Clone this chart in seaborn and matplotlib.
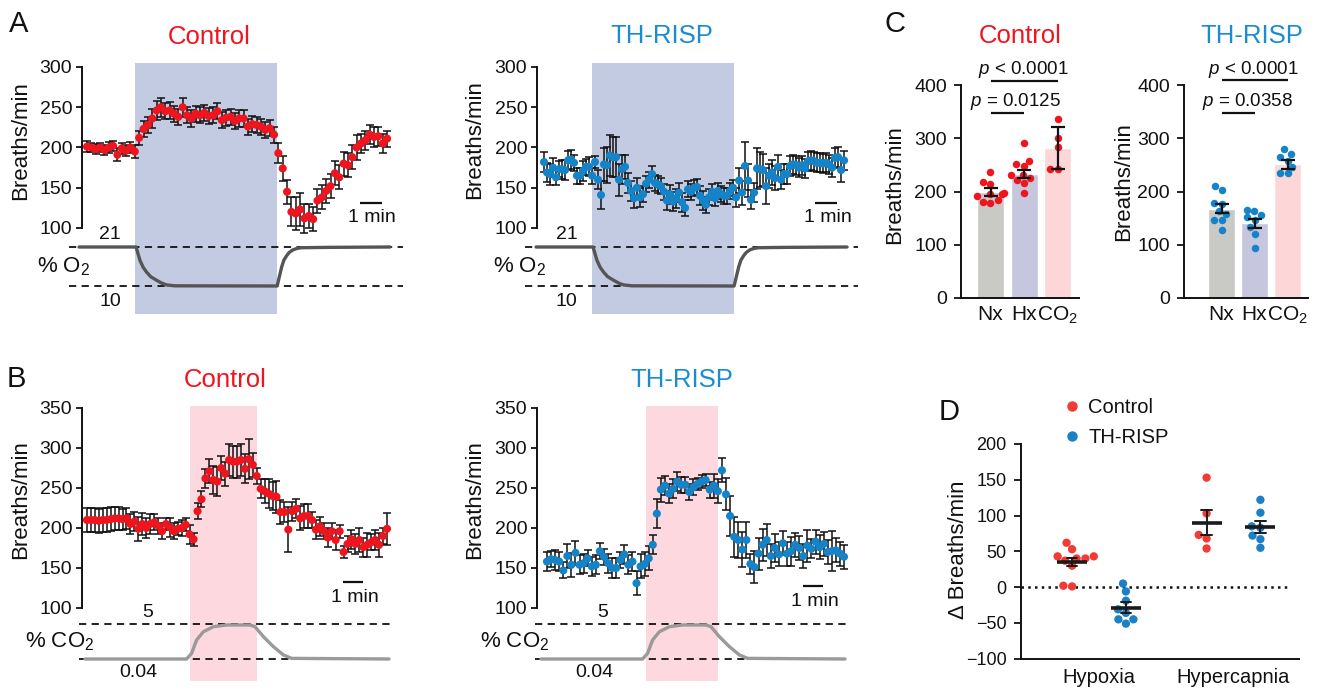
import numpy as np
import pandas as pd
import matplotlib
matplotlib.use("Agg")
import matplotlib.pyplot as plt
from matplotlib.lines import Line2D
import seaborn as sns

# ---------------- Panel A: breathing rate, hypoxia (mean, SEM; breaths/min) ----------------
A_CTRL_RATE = [201, 200, 198, 200, 197, 200, 202, 191, 199, 196, 200, 195,
               212, 223, 228, 236, 246, 250, 245, 246, 242, 238, 250, 240, 236, 242, 240, 243,
               239, 240, 245, 234, 237, 238, 233, 236, 236, 226, 229, 228, 226, 222, 224, 216,
               193, 174, 145, 120, 118, 123, 112, 115, 111, 134, 138, 146, 152, 168, 163, 180,
               178, 188, 200, 205, 209, 216, 213, 214, 205, 211]
A_CTRL_SEM = [7, 6, 6, 5, 6, 7, 6, 8, 7, 7, 7, 8,
              9, 10, 10, 12, 12, 12, 10, 10, 10, 10, 12, 10, 10, 10, 10, 10,
              10, 10, 10, 10, 10, 10, 10, 10, 10, 10, 10, 10, 10, 10, 10, 10,
              12, 15, 15, 18, 20, 20, 18, 15, 15, 15, 15, 15, 15, 15, 15, 15,
              15, 15, 15, 12, 12, 12, 12, 12, 12, 10]
A_RISP_RATE = [182, 169, 167, 175, 163, 173, 173, 172, 184, 185, 181, 165, 165, 171, 176, 176,
               165, 182, 160, 141, 179, 178, 190, 188, 188, 160, 173, 176, 156, 146, 137, 150,
               138, 142, 155, 160, 167, 156, 154, 152, 145, 134, 142, 133, 137, 144, 132, 125,
               148, 145, 150, 151, 140, 134, 129, 138, 145, 137, 146, 142, 140, 140, 146, 150,
               138, 159, 144, 177, 159, 135, 144, 174, 173, 172, 152, 165, 169, 162, 176, 160,
               167, 167, 177, 179, 178, 175, 178, 174, 183, 184, 183, 181, 181, 180, 181, 179,
               175, 187, 188, 172, 184]
A_RISP_SEM = [12, 12, 13, 12, 10, 10, 12, 12, 12, 12, 10, 10, 10, 12, 10, 12, 10, 8, 12,
              18, 20, 22, 25, 25, 25, 20, 18, 15,
              12, 12, 12, 12, 12, 10, 10, 10, 10, 10, 10, 10, 10, 12, 12, 12, 12, 12,
              12, 10, 10, 10, 10, 10, 12, 12, 10, 10, 10, 10, 10, 10, 10, 10, 10, 10,
              12, 15, 15, 30, 20, 12, 12, 25, 22, 20, 22, 15, 15, 15, 15, 12, 12, 12, 12,
              12, 12, 12, 12, 12, 12, 12, 12, 12, 12, 12, 12, 12, 12, 12, 12, 15, 12]
A_SPAN_MIN = (0.0, 13.64)          # first / last time bin (min)
HYPOXIA_WINDOW = (2.2, 8.65)       # min
O2_TIME = [-0.36, 2.23, 2.30, 2.41, 2.55, 2.71, 2.90, 3.17, 3.40, 3.62, 4.00, 8.64,
           8.70, 8.85, 8.95, 9.08, 9.20, 9.36, 9.55, 9.76, 11.0, 13.77]
O2_PCT = [21, 21, 19.5, 17.2, 15.3, 13.9, 12.6, 11.6, 10.8, 10.3, 10.05, 10.0,
          11.5, 15.4, 17.3, 18.6, 19.5, 20.2, 20.6, 20.8, 20.9, 21.0]

# ---------------- Panel B: breathing rate, hypercapnia ----------------
B_CTRL_RATE = [210, 210, 210, 209, 210, 210, 211, 212, 212, 211, 212, 205, 208, 199, 205, 200,
               205, 207, 203, 196, 205, 201, 196, 199, 200, 204, 192, 186, 221, 236, 262, 271,
               260, 258, 275, 268, 285, 283, 283, 285, 274, 286, 279, 265, 249, 246, 243, 240,
               239, 220, 220, 198, 221, 224, 212, 215, 215, 210, 198, 202, 196, 188, 196, 185,
               196, 170, 180, 186, 180, 185, 176, 179, 182, 185, 179, 190, 199]
B_CTRL_SEM = [15, 15, 15, 15, 15, 15, 15, 14, 14, 13, 13,
              13, 12, 15, 14, 12, 12, 10, 10, 10, 8, 12, 10, 8, 10, 8, 12, 8,
              10, 10, 12, 15, 18, 18, 15, 15, 20, 20, 20, 20, 18, 25, 15, 10,
              12, 15, 18, 18, 20, 15, 12, 28, 12, 12, 15, 15, 15, 10, 12, 12, 10,
              12, 10, 12, 8, 8, 10, 12, 12, 15, 12, 15, 10, 12, 15, 10, 20]
B_RISP_RATE = [158, 161, 160, 158, 147, 165, 154, 169, 154, 156, 162, 152, 154, 171, 164, 156,
               150, 150, 160, 167, 154, 158, 131, 152, 155, 162, 179, 218, 248, 253, 243, 249,
               258, 254, 254, 245, 251, 255, 258, 260, 248, 253, 246, 272, 242, 215, 189, 185,
               173, 185, 155, 151, 168, 179, 185, 165, 175, 167, 181, 168, 171, 179, 175, 165,
               178, 174, 183, 176, 180, 170, 171, 172, 168, 164]
B_RISP_SEM = [12, 10, 12, 12, 10, 15, 15, 15, 12, 12, 10, 12, 12, 10, 10, 12, 12, 12, 10, 12,
              12, 12, 15, 15, 15, 15, 12,
              18, 15, 12, 12, 12, 12, 10, 10, 10, 10, 8, 8, 8, 10, 15, 15,
              15, 20, 25, 25, 22, 22, 22, 12, 20, 20, 20, 20, 15, 18, 15, 15, 15, 18, 15, 15,
              15, 20, 12, 15, 15, 15, 15, 25, 15, 15, 15]
B_CTRL_SPAN = (0.0, 15.0)
B_RISP_SPAN = (0.2, 15.05)
HYPERCAP_WINDOW_CTRL = (5.15, 8.5)
HYPERCAP_WINDOW_RISP = (5.15, 8.75)
CO2_TIME = [-0.1, 4.98, 5.23, 5.48, 5.82, 6.32, 6.98, 8.15, 8.40, 8.82, 9.32, 9.82, 10.23, 15.1]
CO2_PCT = [0.04, 0.04, 0.84, 2.73, 3.91, 4.62, 4.86, 4.86, 4.62, 3.20, 1.79, 0.61, 0.13, 0.04]

# ---------------- Panel C: rate under normoxia / hypoxia / hypercapnia ----------------
C_CONDITIONS = ["Nx", "Hx", "CO$_2$"]
C_CTRL_MEAN = [199, 233, 282]
C_CTRL_SEM = [7, 8, 39]
C_CTRL_NX = [237, 214, 217, 198, 195, 196, 181, 179, 184, 191]
C_CTRL_HX = [291, 258, 251, 247, 231, 231, 222, 216, 225, 198]
C_CTRL_CO2 = [336, 300, 284, 242, 242]
C_RISP_MEAN = [168, 140, 251]
C_RISP_SEM = [9, 8, 8.5]
C_RISP_NX = [211, 202, 178, 177, 163, 158, 147, 147, 127]
C_RISP_HX = [166, 163, 155, 146, 152, 121, 133, 93]
C_RISP_CO2 = [280, 271, 264, 258, 246, 234, 234]
C_CTRL_P = ["$\\mathit{p}$ < 0.0001", "$\\mathit{p}$ = 0.0125"]
C_RISP_P = ["$\\mathit{p}$ < 0.0001", "$\\mathit{p}$ = 0.0358"]

# ---------------- Panel D: change in rate ----------------
D_CHALLENGES = ["Hypoxia", "Hypercapnia"]
D_GROUPS = ["Control", "TH-RISP"]
D_HYPOXIA_CTRL = [62, 53, 43, 43, 40, 40, 37, 30, 1, 2]
D_HYPOXIA_RISP = [5, -6, -19, -36, -31, -45, -45, -51]
D_HYPERCAP_CTRL = [153, 103, 73, 68, 54]
D_HYPERCAP_RISP = [122, 104, 85, 83, 72, 67, 55]

# ---------------- styling ----------------
RED = "#f0141e"
BLUE = "#1483c8"
BLUE_TITLE = "#1a8dd2"
D_RED = "#f23b34"
D_BLUE = "#1b80c5"
HYPOXIA_SHADE = "#c2cbe1"
HYPERCAP_SHADE = "#fdd9df"
BAR_COLORS = ["#c9c9c5", "#c6c6df", "#fdd7d7"]
INK = "#111111"

sns.set_theme(style="white")
plt.rcParams["font.family"] = ["Liberation Sans", "DejaVu Sans"]
plt.rcParams["mathtext.fontset"] = "custom"
plt.rcParams["mathtext.rm"] = "Liberation Sans"
plt.rcParams["mathtext.it"] = "Liberation Sans:italic"
plt.rcParams["mathtext.default"] = "regular"
plt.rcParams["text.color"] = INK

W, H = 1319, 690
fig = plt.figure(figsize=(W / 100, H / 100), dpi=100)
fig.patch.set_facecolor("white")


def add_ax(x0, y0, x1, y1):
    ax = fig.add_axes([x0 / W, 1 - y1 / H, (x1 - x0) / W, (y1 - y0) / H])
    ax.set_facecolor("none")
    return ax


def lin_lim(pa, va, pb, vb, p0, p1):
    f = lambda p: va + (p - pa) * (vb - va) / (pb - pa)
    return f(p0), f(p1)


def ftext(x, y, s, **kw):
    fig.text(x / W, 1 - y / H, s, **kw)


def to_data(ax, x, y):
    return ax.transData.inverted().transform((x, H - y))


def rate_panel(axis_px, right_px, top_px, bot_px, t0_px, ppm, yref, yticks,
               span, rate, sem, color, window, shade):
    ax = add_ax(axis_px, top_px, right_px, bot_px)
    t = np.linspace(span[0], span[1], len(rate))
    ax.axvspan(*window, color=shade, lw=0, zorder=0)
    ax.errorbar(t, rate, yerr=sem, fmt="none", ecolor=INK, elinewidth=1.1,
                capsize=2.6, capthick=1.1, zorder=2, clip_on=False)
    sns.scatterplot(x=t, y=rate, ax=ax, color=color, s=34, edgecolor="none",
                    zorder=3, clip_on=False, legend=False)
    ax.set_xlim((axis_px - t0_px) / ppm, (right_px - t0_px) / ppm)
    (pa, va), (pb, vb) = yref
    ax.set_ylim(*lin_lim(pa, va, pb, vb, bot_px, top_px))
    for s in ["top", "right", "bottom"]:
        ax.spines[s].set_visible(False)
    ax.spines["left"].set_bounds(yticks[0], yticks[-1])
    ax.spines["left"].set_linewidth(1.4)
    ax.spines["left"].set_color(INK)
    ax.set_xticks([])
    ax.set_yticks(yticks)
    ax.tick_params(axis="y", direction="out", length=4, width=1.3, pad=3,
                   labelsize=14, colors=INK, left=True)
    ax.set_xlabel("")
    ax.set_ylabel("")
    return ax


def gas_panel(left_px, right_px, top_px, bot_px, t0_px, ppm, hi_px, hi, lo_px, lo,
              t, v, color, window, shade):
    ax = add_ax(left_px, top_px, right_px, bot_px)
    ax.axvspan(*window, color=shade, lw=0, zorder=0)
    ax.axhline(hi, color=INK, lw=1.3, ls=(0, (4, 3)), zorder=1)
    ax.axhline(lo, color=INK, lw=1.3, ls=(0, (4, 3)), zorder=1)
    sns.lineplot(x=t, y=v, ax=ax, color=color, lw=2.4, estimator=None, sort=False,
                 zorder=2, solid_capstyle="round")
    ax.set_xlim((left_px - t0_px) / ppm, (right_px - t0_px) / ppm)
    ax.set_ylim(*lin_lim(hi_px, hi, lo_px, lo, bot_px, top_px))
    ax.axis("off")
    return ax


def scale_bar(ax, x_px, y_px, tx, tbase):
    x, y = to_data(ax, x_px, y_px)
    ax.plot([x, x + 1], [y, y], color=INK, lw=1.6, clip_on=False, solid_capstyle="butt")
    ftext(tx, tbase, "1 min", ha="center", va="baseline", fontsize=14)


# ---------------- Panel A ----------------
A_YREF = ((67, 300), (228, 100))
A_TICKS = [100, 150, 200, 250, 300]
O2_REF = dict(hi_px=247, hi=21, lo_px=286, lo=10)

ax = rate_panel(82, 405, 63, 240, 87, 22, A_YREF, A_TICKS, A_SPAN_MIN,
                A_CTRL_RATE, A_CTRL_SEM, RED, HYPOXIA_WINDOW, HYPOXIA_SHADE)
scale_bar(ax, 360, 202.7, 372, 221.7)
gas_panel(69, 403, 240, 314, 87, 22, **O2_REF, t=O2_TIME, v=O2_PCT, color="#555555",
          window=HYPOXIA_WINDOW, shade=HYPOXIA_SHADE)

ax = rate_panel(537, 858, 63, 240, 544, 22, A_YREF, A_TICKS, A_SPAN_MIN,
                A_RISP_RATE, A_RISP_SEM, BLUE, HYPOXIA_WINDOW, HYPOXIA_SHADE)
scale_bar(ax, 815, 203.3, 827.5, 221.7)
gas_panel(525, 858, 240, 314, 544, 22, **O2_REF, t=O2_TIME, v=O2_PCT, color="#555555",
          window=HYPOXIA_WINDOW, shade=HYPOXIA_SHADE)

for cx, cy_lab in [(21, 141), (474.5, 140)]:
    ftext(cx, cy_lab, "Breaths/min", rotation=90, ha="center", va="center", fontsize=16)
for x21, xpct in [(110, 64), (566.5, 520)]:
    ftext(x21, 239, "21", ha="center", va="baseline", fontsize=14)
    ftext(x21, 306, "10", ha="center", va="baseline", fontsize=14)
    ftext(xpct, 272, "% O$_2$", ha="center", va="baseline", fontsize=16)
ftext(209, 44, "Control", ha="center", va="baseline", fontsize=18.5, color=RED)
ftext(662, 43, "TH-RISP", ha="center", va="baseline", fontsize=18.5, color=BLUE_TITLE)

# ---------------- Panel B ----------------
B_YREF = ((408, 350), (608, 100))
B_TICKS = [100, 150, 200, 250, 300, 350]
CO2_REF = dict(hi_px=624, hi=5, lo_px=659, lo=0.04)

ax = rate_panel(82, 392, 406, 615, 87, 20, B_YREF, B_TICKS, B_CTRL_SPAN,
                B_CTRL_RATE, B_CTRL_SEM, RED, HYPERCAP_WINDOW_CTRL, HYPERCAP_SHADE)
scale_bar(ax, 343, 581.7, 354.5, 601.7)
gas_panel(79, 391, 615, 681, 87, 20, **CO2_REF, t=CO2_TIME, v=CO2_PCT, color="#9a9a9a",
          window=HYPERCAP_WINDOW_CTRL, shade=HYPERCAP_SHADE)

ax = rate_panel(537, 850, 406, 615, 543, 20, B_YREF, B_TICKS, B_RISP_SPAN,
                B_RISP_RATE, B_RISP_SEM, BLUE, HYPERCAP_WINDOW_RISP, HYPERCAP_SHADE)
scale_bar(ax, 803, 586, 815, 605.7)
gas_panel(535, 849, 615, 681, 543, 20, **CO2_REF, t=CO2_TIME, v=CO2_PCT, color="#9a9a9a",
          window=HYPERCAP_WINDOW_RISP, shade=HYPERCAP_SHADE)

for cx in [21, 474.5]:
    ftext(cx, 500, "Breaths/min", rotation=90, ha="center", va="center", fontsize=16)
for x5, x004, xpct in [(148, 138, 59.5), (603, 594, 515)]:
    ftext(x5, 617, "5", ha="center", va="baseline", fontsize=14)
    ftext(x004, 677, "0.04", ha="center", va="baseline", fontsize=14)
    ftext(xpct, 647, "% CO$_2$", ha="center", va="baseline", fontsize=16)
ftext(225.5, 387, "Control", ha="center", va="baseline", fontsize=18.5, color=RED)
ftext(682, 387, "TH-RISP", ha="center", va="baseline", fontsize=18.5, color=BLUE_TITLE)


# ---------------- Panel C ----------------
def bar_panel(axis_px, right_px, c0_px, step_px, means, sems, dots, color, pvals, p_px):
    ax = add_ax(axis_px, 85, right_px, 298)
    bars = pd.DataFrame({"cond": C_CONDITIONS, "rate": means})
    sns.barplot(data=bars, x="cond", y="rate", hue="cond", order=C_CONDITIONS,
                hue_order=C_CONDITIONS, palette=BAR_COLORS, width=27 / step_px,
                saturation=1, errorbar=None, legend=False, ax=ax, zorder=1)
    pts = pd.DataFrame({"cond": np.repeat(C_CONDITIONS, [len(d) for d in dots]),
                        "rate": np.concatenate(dots)})
    sns.swarmplot(data=pts, x="cond", y="rate", order=C_CONDITIONS, color=color,
                  size=5.4, ax=ax, zorder=3, linewidth=0)
    ax.errorbar(range(3), means, yerr=sems, fmt="none", ecolor=INK, elinewidth=1.6,
                capsize=5, capthick=1.6, zorder=5)
    ax.set_xlim((axis_px - c0_px) / step_px, (right_px - c0_px) / step_px)
    ax.set_ylim(0, 400)
    ax.set_yticks([0, 100, 200, 300, 400])
    for s in ["top", "right"]:
        ax.spines[s].set_visible(False)
    for s in ["left", "bottom"]:
        ax.spines[s].set_linewidth(1.4)
        ax.spines[s].set_color(INK)
    ax.tick_params(axis="y", direction="out", length=5, width=1.3, pad=5,
                   labelsize=14, colors=INK, left=True)
    ax.tick_params(axis="x", length=0, pad=5, labelsize=15, colors=INK)
    ax.set_xlabel("")
    ax.set_ylabel("")
    # significance brackets
    (line1_y, text1_x, text1_y), (line2_y, text2_x, text2_y) = p_px
    for (i1, ly, txt, tx, ty) in [(2, line1_y, pvals[0], text1_x, text1_y),
                                  (1, line2_y, pvals[1], text2_x, text2_y)]:
        _, yv = to_data(ax, 0, ly)
        ax.plot([0, i1], [yv, yv], color=INK, lw=1.6, clip_on=False, solid_capstyle="butt")
        ftext(tx, ty, txt, ha="center", va="baseline", fontsize=13.5)
    return ax


bar_panel(961, 1079, 990.5, 33.5, C_CTRL_MEAN, C_CTRL_SEM,
          [C_CTRL_NX, C_CTRL_HX, C_CTRL_CO2], RED, C_CTRL_P,
          ((80.7, 1023, 74), (113, 1015, 106)))
bar_panel(1184, 1308, 1221.5, 33, C_RISP_MEAN, C_RISP_SEM,
          [C_RISP_NX, C_RISP_HX, C_RISP_CO2], BLUE, C_RISP_P,
          ((80, 1253, 74), (113, 1247, 106)))
ftext(895, 185, "Breaths/min", rotation=90, ha="center", va="center", fontsize=16)
ftext(1124, 182, "Breaths/min", rotation=90, ha="center", va="center", fontsize=16)
ftext(1020, 43, "Control", ha="center", va="baseline", fontsize=18.5, color=RED)
ftext(1252, 43, "TH-RISP", ha="center", va="baseline", fontsize=18.5, color=BLUE_TITLE)

# ---------------- Panel D ----------------
d_vals = [D_HYPOXIA_CTRL, D_HYPOXIA_RISP, D_HYPERCAP_CTRL, D_HYPERCAP_RISP]
d_ch = [D_CHALLENGES[0], D_CHALLENGES[0], D_CHALLENGES[1], D_CHALLENGES[1]]
d_gr = [D_GROUPS[0], D_GROUPS[1], D_GROUPS[0], D_GROUPS[1]]
d_df = pd.DataFrame({
    "challenge": np.repeat(d_ch, [len(v) for v in d_vals]),
    "group": np.repeat(d_gr, [len(v) for v in d_vals]),
    "delta": np.concatenate(d_vals),
})

axd = add_ax(1020.7, 444, 1299, 658.7)
axd.axhline(0, xmax=(1286.7 - 1020.7) / (1299 - 1020.7), color=INK, lw=1.8,
            ls=(0, (1, 1.7)), zorder=1)
sns.swarmplot(data=d_df, x="challenge", y="delta", hue="group", order=D_CHALLENGES,
              hue_order=D_GROUPS, palette=[D_RED, D_BLUE], dodge=True, size=6,
              linewidth=0, ax=axd, legend=False, zorder=2)
sns.pointplot(data=d_df, x="challenge", y="delta", hue="group", order=D_CHALLENGES,
              hue_order=D_GROUPS, palette=["k", "k"], dodge=0.4, errorbar="se",
              capsize=0.08, marker="_", markersize=22, markeredgewidth=2.6,
              linestyle="none", err_kws={"linewidth": 1.4}, ax=axd, legend=False, zorder=4)
center0, unit = 1099, 134.5
axd.set_xlim((1020.7 - center0) / unit, (1299 - center0) / unit)
axd.set_ylim(-100, 200)
axd.set_yticks([-100, -50, 0, 50, 100, 150, 200])
for s in ["top", "right"]:
    axd.spines[s].set_visible(False)
for s in ["left", "bottom"]:
    axd.spines[s].set_linewidth(1.4)
    axd.spines[s].set_color(INK)
axd.tick_params(axis="y", direction="out", length=5, width=1.3, pad=5,
                labelsize=13, colors=INK, left=True)
axd.tick_params(axis="x", length=0, pad=7, labelsize=14.5, colors=INK)
axd.set_xlabel("")
axd.set_ylabel("")
handles = [Line2D([], [], ls="none", marker="o", ms=7.5, color=c, mec="none")
           for c in [D_RED, D_BLUE]]
axd.legend(handles, D_GROUPS, loc="upper left", bbox_to_anchor=(1064 / W, 1 - 398 / H),
           bbox_transform=fig.transFigure, frameon=False, handlelength=0.8,
           handletextpad=0.4, labelspacing=0.55, borderpad=0, borderaxespad=0,
           fontsize=14.5)
ftext(958.5, 550, "Δ Breaths/min", rotation=90, ha="center", va="center", fontsize=16)

# ---------------- panel letters ----------------
for letter, x, y in [("A", 19, 32), ("B", 16, 387), ("C", 895, 32), ("D", 949, 420)]:
    ftext(x, y, letter, ha="center", va="baseline", fontsize=21)

fig.savefig("out.png", dpi=100)
